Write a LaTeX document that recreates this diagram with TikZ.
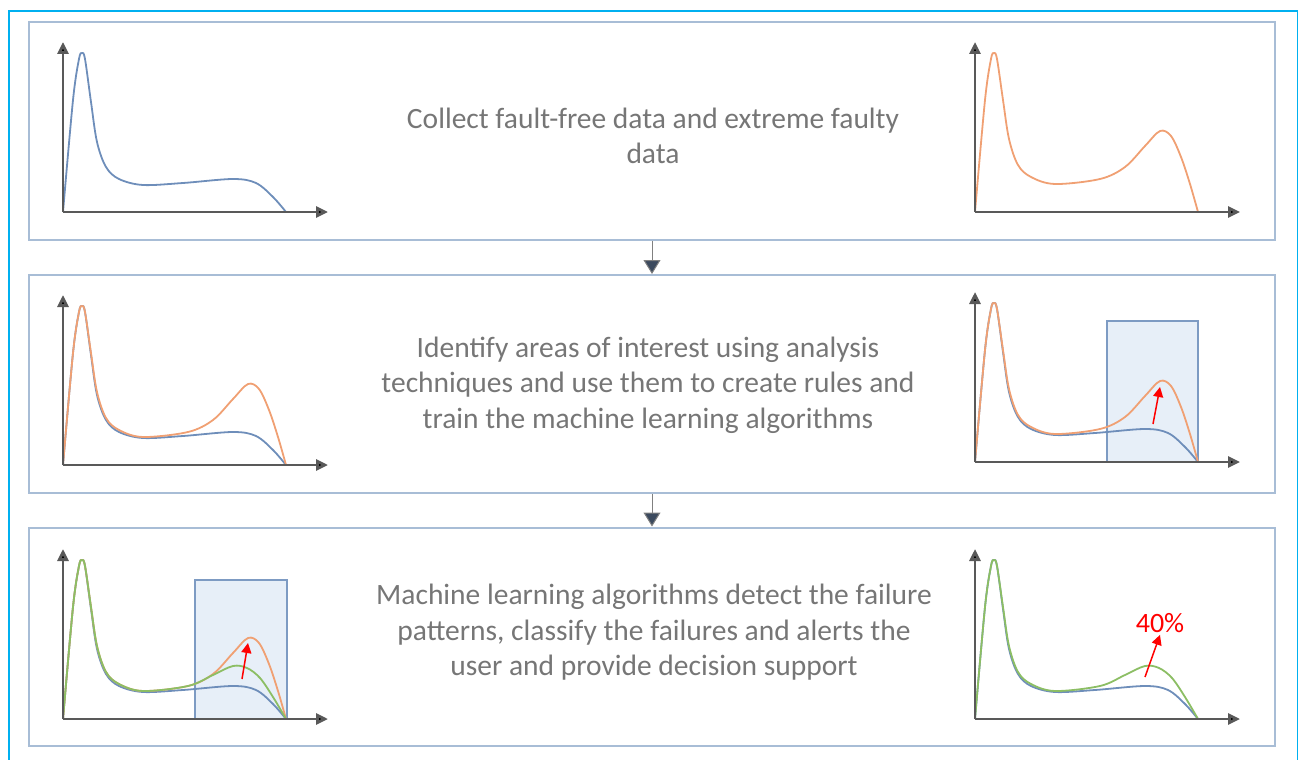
\documentclass[tikz,border=0pt]{standalone}
\usepackage{fontspec}
\setmainfont{Carlito}
\usepackage{tikz}
\usetikzlibrary{arrows.meta,positioning,calc}
\usepackage{xcolor}

\definecolor{framecyan}{RGB}{0,176,240}
\definecolor{panelblue}{RGB}{168,189,214}
\definecolor{healthyblue}{RGB}{110,142,186}
\definecolor{faultorange}{RGB}{240,160,115}
\definecolor{detectgreen}{RGB}{140,190,100}
\definecolor{zonefill}{RGB}{231,239,248}
\definecolor{zoneedge}{RGB}{125,155,195}
\definecolor{textgray}{RGB}{118,118,118}
\definecolor{flowhead}{RGB}{60,74,94}

\begin{document}
\begin{tikzpicture}[
    x=1pt,y=-1pt,
    panel/.style={draw=panelblue,line width=2pt,minimum width=1246pt,minimum height=218pt,inner sep=0pt},
    stage/.style={align=center,text=textgray,font=\fontsize{29.5}{35.5}\selectfont},
    flow/.style={draw=gray,line width=1pt,-{Triangle[length=14pt,width=17pt,fill=flowhead]}},
    axis/.style={draw=black!65,line width=2.8pt,-{Triangle[length=12pt,width=11pt,fill=black]}},
    curve/.style={line width=1.8pt,smooth,tension=0.55},
    rise/.style={draw=red,line width=1.5pt,-{Triangle[length=10pt,width=10pt]}},
    zone/.style={fill=zonefill,draw=zoneedge,line width=1.2pt},
    axes/.pic={
      \draw[axis] (0,0) -- (0,-170);
      \draw[axis] (0,0) -- (265,0);
    },
    healthy/.pic={
      \draw[curve,healthyblue] plot coordinates {(0,0) (10,-112) (16,-153) (19,-159) (22,-153) (28,-110) (34,-70) (43,-45) (56,-33) (80,-27) (120,-29) (170,-33) (193,-29) (210,-15) (223,0)};
    },
    faulty/.pic={
      \draw[curve,faultorange] plot coordinates {(0,0) (10,-112) (16,-153) (19,-159) (22,-153) (28,-112) (34,-73) (43,-47) (56,-35) (80,-28) (125,-33) (150,-45) (170,-66) (185,-81) (196,-76) (206,-55) (215,-28) (223,0)};
    },
    detected/.pic={
      \draw[curve,detectgreen] plot coordinates {(0,0) (10,-112) (16,-153) (19,-159) (22,-153) (28,-112) (34,-73) (43,-47) (56,-35) (80,-28) (125,-33) (150,-44) (170,-53) (184,-51) (197,-41) (210,-22) (223,0)};
    }
  ]
    \useasboundingbox (0,0) rectangle (1299,760);

    % Outer frame, open at the bottom
    \draw[framecyan,line width=1.8pt] (9,770) -- (9,11) -- (1297.5,11) -- (1297.5,770);

    % Stage panels
    \node[panel] (p1) at (652,131) {};
    \node[panel] (p2) at (652,384) {};
    \node[panel] (p3) at (652,636.5) {};

    % Stage texts
    \node[stage] (t1) at (653,136) {Collect fault-free data and extreme faulty\\data};
    \node[stage] (t2) at (648,385) {Identify areas of interest using analysis\\techniques and use them to create rules and\\train the machine learning algorithms};
    \node[stage] (t3) at (654,632.5) {Machine learning algorithms detect the failure\\patterns, classify the failures and alerts the\\user and provide decision support};

    % Flow between stages
    \draw[flow] (p1.south) -- (p2.north);
    \draw[flow] (p2.south) -- (p3.north);

    % Stage 1: fault-free and faulty data
    \pic at (63,212) {healthy};
    \pic at (63,212) {axes};
    \pic at (975,212) {faulty};
    \pic at (975,212) {axes};

    % Stage 2: areas of interest
    \pic at (63,465) {healthy};
    \pic at (63,465) {faulty};
    \pic at (63,465) {axes};
    \draw[zone] (1107,321) rectangle (1198,462);
    \pic at (975,462) {healthy};
    \pic at (975,462) {faulty};
    \pic at (975,462) {axes};
    \coordinate (r2a) at (1153,424);
    \coordinate (r2b) at (1160,387);
    \draw[rise] (r2a) -- (r2b);

    % Stage 3: detection
    \draw[zone] (195,580) rectangle (287,719);
    \pic at (63,719) {healthy};
    \pic at (63,719) {faulty};
    \pic at (63,719) {detected};
    \pic at (63,719) {axes};
    \coordinate (r3a) at (242,679);
    \coordinate (r3b) at (248,643);
    \draw[rise] (r3a) -- (r3b);
    \pic at (975,719) {healthy};
    \pic at (975,719) {detected};
    \pic at (975,719) {axes};
    \node[text=red,font=\fontsize{28}{32}\selectfont,inner sep=2pt] (pct) at (1160,623) {40\%};
    \coordinate (r4a) at (1145,677);
    \draw[rise] (r4a) -- (pct.south);
\end{tikzpicture}
\end{document}
